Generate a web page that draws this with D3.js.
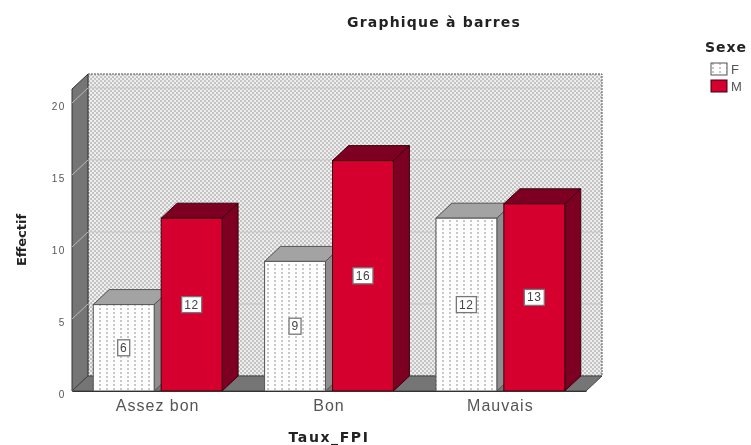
<!DOCTYPE html>
<html>
<head>
<meta charset="utf-8">
<script src="https://cdn.jsdelivr.net/npm/d3@7"></script>
<style>
  html, body { margin: 0; background: #fff; }
  text { font-family: 'Liberation Sans', Arial, sans-serif; }
  .bold { font-family: 'DejaVu Sans', sans-serif; font-weight: bold; font-size: 14px; fill: #222; }
</style>
</head>
<body>
<div id="chart"></div>
<script>
const categories = ['Assez bon', 'Bon', 'Mauvais']
const seriesNames = ['F', 'M']
const valuesF = [6, 9, 12]
const valuesM = [12, 16, 13]
const yTicks = [0, 5, 10, 15, 20]

const width = 751
const height = 445
const left = 72
const right = 586
const floorY = 391
const depthX = 16
const depthY = 15
const topFront = 89

const svg = d3.select('#chart').append('svg')
  .attr('width', width).attr('height', height)
  .style('display', 'block')

const defs = svg.append('defs')
defs.append('filter').attr('id', 'soft')
  .attr('filterUnits', 'userSpaceOnUse')
  .attr('x', 0).attr('y', 0).attr('width', width).attr('height', height)
  .append('feGaussianBlur').attr('stdDeviation', 0.7)

const wallPat = defs.append('pattern').attr('id', 'wall')
  .attr('width', 4).attr('height', 4).attr('patternUnits', 'userSpaceOnUse')
wallPat.append('rect').attr('width', 4).attr('height', 4).attr('fill', '#eeeeee')
wallPat.append('rect').attr('width', 2).attr('height', 2).attr('fill', '#c4c4c4')
wallPat.append('rect').attr('x', 2).attr('y', 2).attr('width', 2).attr('height', 2).attr('fill', '#c4c4c4')

const dotPat = defs.append('pattern').attr('id', 'dots')
  .attr('width', 7).attr('height', 4).attr('patternUnits', 'userSpaceOnUse')
dotPat.append('rect').attr('width', 7).attr('height', 4).attr('fill', '#fdfdfd')
dotPat.append('rect').attr('x', 1).attr('y', 0).attr('width', 2).attr('height', 2).attr('fill', '#c8c8c8')

const x0 = d3.scaleBand().domain(categories).range([left, right])
  .paddingInner(0.248).paddingOuter(0.124)
const x1 = d3.scaleBand().domain(seriesNames).range([0, x0.bandwidth()])
  .paddingInner(0.103)
const y = d3.scaleLinear().domain([0, 20]).range([floorY, 103])

const g = svg.append('g').attr('filter', 'url(#soft)')
const poly = pts => pts.map(p => p.join(',')).join(' ')

// back wall, side wall, floor
g.append('rect')
  .attr('x', left + depthX).attr('y', topFront - depthY)
  .attr('width', right - left).attr('height', floorY - topFront)
  .attr('fill', 'url(#wall)').attr('stroke', '#555').attr('stroke-dasharray', '2 1')

g.append('polygon')
  .attr('points', poly([[left, topFront], [left + depthX, topFront - depthY], [left + depthX, floorY - depthY], [left, floorY]]))
  .attr('fill', '#757575').attr('stroke', '#333')

g.append('polygon')
  .attr('points', poly([[left, floorY], [left + depthX, floorY - depthY], [right + depthX, floorY - depthY], [right, floorY]]))
  .attr('fill', '#757575').attr('stroke', '#444')

// grid on the walls
yTicks.filter(d => d > 0).forEach(d => {
  g.append('polyline')
    .attr('points', poly([[left, y(d)], [left + depthX, y(d) - depthY], [right + depthX, y(d) - depthY]]))
    .attr('fill', 'none').attr('stroke', '#c4c4c4').attr('stroke-opacity', 0.85)
})

// bars
const rows = categories.flatMap((c, i) => [
  { cat: c, key: 'F', val: valuesF[i] },
  { cat: c, key: 'M', val: valuesM[i] }
])
const faces = {
  F: { front: 'url(#dots)', top: '#a3a3a3', side: '#8f8f8f', line: '#555' },
  M: { front: '#d6002f', top: '#7d0020', side: '#7d0020', line: '#3c0010' }
}

const bars = g.selectAll('.bar').data(rows).enter().append('g').attr('class', 'bar')

bars.append('polygon')
  .attr('points', d => {
    const a = x0(d.cat) + x1(d.key), b = a + x1.bandwidth(), t = y(d.val)
    return poly([[a, t], [a + depthX, t - depthY], [b + depthX, t - depthY], [b, t]])
  })
  .attr('fill', d => faces[d.key].top).attr('stroke', d => faces[d.key].line)

bars.append('polygon')
  .attr('points', d => {
    const b = x0(d.cat) + x1(d.key) + x1.bandwidth(), t = y(d.val)
    return poly([[b, t], [b + depthX, t - depthY], [b + depthX, floorY - depthY], [b, floorY]])
  })
  .attr('fill', d => faces[d.key].side).attr('stroke', d => faces[d.key].line)

bars.append('rect')
  .attr('x', d => x0(d.cat) + x1(d.key))
  .attr('y', d => y(d.val))
  .attr('width', x1.bandwidth())
  .attr('height', d => floorY - y(d.val))
  .attr('fill', d => faces[d.key].front).attr('stroke', d => faces[d.key].line)

// value boxes
bars.append('rect')
  .attr('x', d => x0(d.cat) + x1(d.key) + x1.bandwidth() / 2 - (d.val > 9 ? 10 : 6))
  .attr('y', d => (y(d.val) + floorY) / 2 - 8)
  .attr('width', d => d.val > 9 ? 20 : 12)
  .attr('height', 16)
  .attr('fill', '#fff').attr('stroke', '#777').attr('stroke-width', 1.3)

bars.append('text')
  .attr('x', d => x0(d.cat) + x1(d.key) + x1.bandwidth() / 2)
  .attr('y', d => (y(d.val) + floorY) / 2 + 4)
  .attr('text-anchor', 'middle').attr('font-size', 12).attr('fill', '#444')
  .style('letter-spacing', '0.6px')
  .text(d => d.val)

// axes
const yAxis = g.append('g').attr('transform', `translate(${left - 6},3)`)
  .call(d3.axisLeft(y).tickValues(yTicks).tickSize(0).tickPadding(0))
yAxis.select('.domain').remove()
yAxis.selectAll('text').attr('font-size', 10).attr('fill', '#555')
  .style('font-family', "'Liberation Sans', Arial, sans-serif").style('letter-spacing', '1.6px')

const xAxis = g.append('g').attr('transform', `translate(0,${floorY})`)
  .call(d3.axisBottom(x0).tickSize(0).tickPadding(9))
xAxis.select('.domain').attr('stroke', '#333')
xAxis.selectAll('text').attr('font-size', 16).attr('fill', '#555')
  .style('font-family', "'Liberation Sans', Arial, sans-serif").style('letter-spacing', '1px')

// titles
g.append('text').attr('class', 'bold').attr('x', 434).attr('y', 27).attr('text-anchor', 'middle')
  .style('letter-spacing', '1.2px').text('Graphique à barres')

g.append('text').attr('class', 'bold').attr('x', 329).attr('y', 442).attr('text-anchor', 'middle')
  .style('letter-spacing', '1.6px').text('Taux_FPI')

g.append('text').attr('class', 'bold').attr('transform', 'translate(26,240) rotate(-90)').attr('text-anchor', 'middle')
  .style('font-size', '13px').text('Effectif')

// legend
g.append('text').attr('class', 'bold').attr('x', 705).attr('y', 52)
  .style('letter-spacing', '1px').text('Sexe')

const legend = g.selectAll('.legend').data(seriesNames).enter().append('g')
  .attr('class', 'legend')
  .attr('transform', (d, i) => `translate(711,${63 + i * 17})`)
legend.append('rect').attr('width', 16).attr('height', 12)
  .attr('fill', d => d === 'F' ? 'url(#dots)' : faces.M.front)
  .attr('stroke', d => faces[d].line)
legend.append('text').attr('x', 20).attr('y', 11)
  .attr('font-size', 13).attr('fill', '#555').text(d => d)
</script>
</body>
</html>
